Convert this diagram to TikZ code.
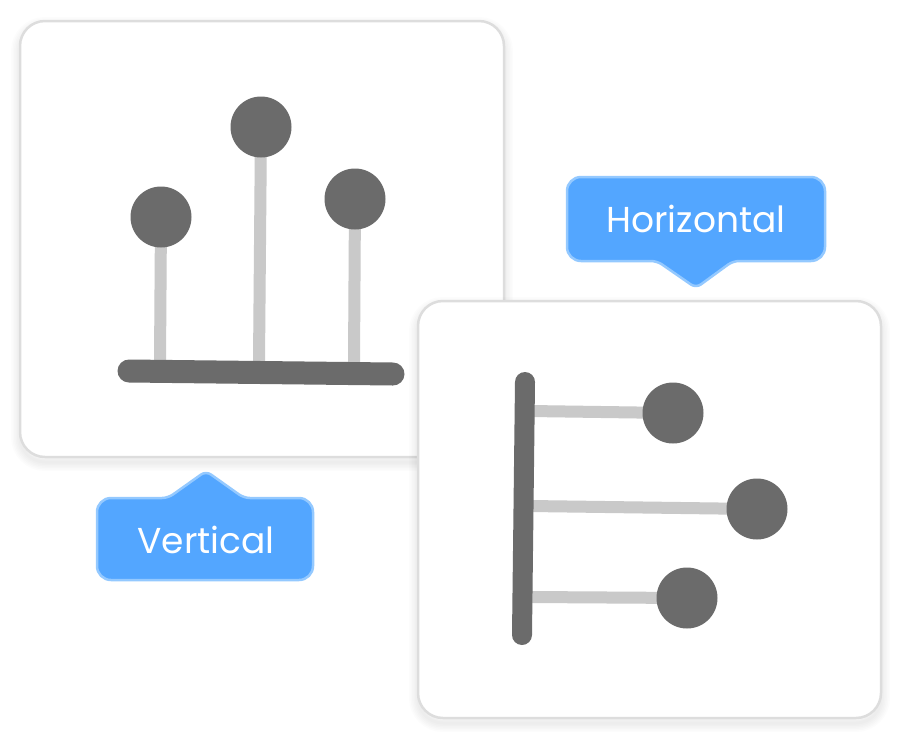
\documentclass[tikz,border=0pt]{standalone}
\usepackage{fontspec}
\setmainfont{Poppins}
\usetikzlibrary{calc}
\definecolor{dotgray}{HTML}{6B6B6B}
\definecolor{stemgray}{HTML}{C9C9C9}
\definecolor{cardline}{HTML}{DDDDDD}
\definecolor{tagblue}{HTML}{53A6FF}
\definecolor{tagline}{HTML}{94C9FF}
\def\lolli(#1)(#2){\draw[line width=12pt, color=stemgray] (#1) -- (#2); \fill[dotgray] (#2) circle (30.5pt);}
\def\softshadow(#1)(#2){\foreach \w in {3,6,...,18} {\draw[line width=\w pt, color=black, opacity=0.012, rounded corners=25pt] ($(#1)+(0,5)$) rectangle ($(#2)+(0,5)$);}}

\begin{document}
\begin{tikzpicture}[x=1pt, y=-1pt]
			%%%%% START %%%%%
			\useasboundingbox (0,0) rectangle (900,740);
			
			% left card, vertical lollipops
			\softshadow(20,21)(504,457)
			\draw[line width=2.5pt, color=cardline, fill=white, rounded corners=25pt] (20,21) rectangle (504,457);
			
			\lolli(160,362)(161,217)
			\lolli(259,362)(261,127)
			\lolli(354,362)(355,199)
			\draw[line width=23pt, color=dotgray, line cap=round] (129,371) -- (393,374);
			
			% vertical tag
			\draw[line width=2.5pt, color=tagline, fill=tagblue, rounded corners=14pt] (97,498) [rounded corners=6pt] -- (168,498) -- (206,471) -- (244,498) [rounded corners=14pt] -- (313,498) -- (313,580) -- (97,580) -- cycle;
			\node[anchor=base, text=white, font=\fontsize{36}{40}\selectfont, inner sep=0pt] (vlabel) at (206,553) {Vertical};
			
			% horizontal tag
			\draw[line width=2.5pt, color=tagline, fill=tagblue, rounded corners=14pt] (567,177) -- (825,177) -- (825,261) [rounded corners=6pt] -- (733,261) -- (696,288) -- (657,261) [rounded corners=14pt] -- (567,261) -- cycle;
			\node[anchor=base, text=white, font=\fontsize{36}{40}\selectfont, inner sep=0pt] (hlabel) at (696,232) {Horizontal};
			
			% right card, horizontal lollipops
			\softshadow(418,301)(881,718)
			\draw[line width=2.5pt, color=cardline, fill=white, rounded corners=25pt] (418,301) rectangle (881,718);
			
			\lolli(530,411)(673,413)
			\lolli(530,506)(757,509)
			\lolli(530,597)(687,598)
			\draw[line width=20pt, color=dotgray, line cap=round] (525,382) -- (522,635);
			
			%%%%% END %%%%%
		\end{tikzpicture}
\end{document}
